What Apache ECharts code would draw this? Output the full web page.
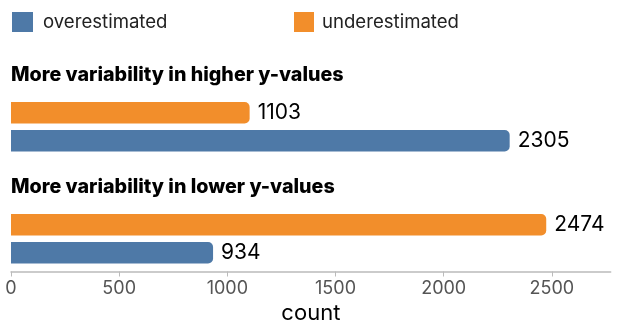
<!DOCTYPE html>
<html>
<head>
<meta charset="utf-8">
<script src="https://cdn.jsdelivr.net/npm/echarts@6/dist/echarts.min.js"></script>
<style>
  html, body { margin: 0; padding: 0; background: #fff; }
  #chart { width: 623px; height: 333px; }
</style>
</head>
<body>
<div id="chart"></div>
<script>
// groups (one panel each) and the values per series
const groups = ['More variability in higher y-values', 'More variability in lower y-values']
const overestimated = [2305, 934]
const underestimated = [1103, 2474]
const xTicks = [0, 500, 1000, 1500, 2000, 2500]
const xMax = 2772

const blue = '#4e79a7'
const orange = '#f28e2b'
const font = 'Inter'

const chart = echarts.init(document.getElementById('chart'))

const gridTops = [94, 206]
const gridH = 65.5

const series = []
groups.forEach((g, i) => {
  series.push({
    name: 'underestimated',
    type: 'bar',
    xAxisIndex: i,
    yAxisIndex: i,
    data: [underestimated[i]],
    barWidth: 21.5,
    barGap: '30%',
    itemStyle: { color: orange, borderRadius: [0, 5, 5, 0] },
    label: { show: true, position: 'right', distance: 8, fontFamily: font, fontSize: 21, color: '#000' }
  })
  series.push({
    name: 'overestimated',
    type: 'bar',
    xAxisIndex: i,
    yAxisIndex: i,
    data: [overestimated[i]],
    barWidth: 21.5,
    barGap: '30%',
    itemStyle: { color: blue, borderRadius: [0, 5, 5, 0] },
    label: { show: true, position: 'right', distance: 8, fontFamily: font, fontSize: 21, color: '#000' }
  })
})

const legendBase = {
  icon: 'rect',
  itemHeight: 20,
  padding: 0,
  top: 12,
  selectedMode: false
}

const option = {
  animation: false,
  textStyle: { fontFamily: font },
  title: groups.map((g, i) => ({
    text: g,
    left: 11,
    top: i === 0 ? 65 : 177,
    padding: 0,
    textStyle: { fontFamily: font, fontSize: 19.7, fontWeight: 800, color: '#000' }
  })),
  legend: [
    Object.assign({}, legendBase, {
      data: ['overestimated'], left: 12, itemWidth: 21,
      textStyle: { fontFamily: font, fontSize: 18.6, color: '#222', padding: [0, 0, 0, 5] }
    }),
    Object.assign({}, legendBase, {
      data: ['underestimated'], left: 294, itemWidth: 20,
      textStyle: { fontFamily: font, fontSize: 18.6, color: '#222', padding: [0, 0, 0, 3] }
    })
  ],
  grid: gridTops.map(t => ({ left: 11, right: 12.3, top: t, height: gridH })),
  xAxis: gridTops.map((t, i) => ({
    type: 'value',
    gridIndex: i,
    min: 0,
    max: xMax,
    show: i === 1,
    splitLine: { show: false },
    axisLine: { show: true, lineStyle: { color: '#bbb', width: 1.5 } },
    axisTick: { show: true, length: 5, customValues: xTicks, lineStyle: { color: '#bbb' } },
    axisLabel: {
      customValues: xTicks,
      formatter: v => String(v),
      fontFamily: font, fontSize: 18, color: '#555', margin: 8.5
    },
    name: i === 1 ? 'count' : '',
    nameLocation: 'middle',
    nameGap: 31,
    nameTextStyle: { fontFamily: font, fontSize: 22, color: '#000' }
  })),
  yAxis: gridTops.map((t, i) => ({
    type: 'category',
    gridIndex: i,
    data: [groups[i]],
    inverse: true,
    show: false
  })),
  series: series
}

chart.setOption(option)
</script>
</body>
</html>
